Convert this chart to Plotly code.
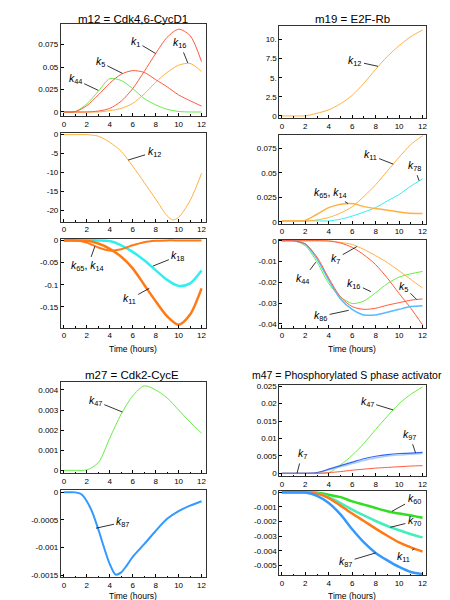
import plotly.graph_objects as go

W, H = 450, 600
FONT = "Liberation Sans, Arial, sans-serif"

# ---------------- data ----------------
hours = [0, 1, 2, 3, 4, 5, 6, 7, 8, 9, 10, 11, 12]
hours_m12_k12 = [0, 1, 2, 3, 4, 5, 6, 7, 8, 9, 9.5, 10, 11, 12]
hours_m27_k87 = [0, 1, 1.5, 2, 2.5, 3, 3.5, 4, 4.5, 5, 5.5, 6, 7, 8, 9, 10, 11, 12]

# m12 = Cdk4,6-CycD1
m12_k1 = [0, 0, 0, 0.001, 0.004, 0.012, 0.026, 0.045, 0.065, 0.083, 0.092, 0.085, 0.056]
m12_k5 = [0, 0.0004, 0.007, 0.019, 0.032, 0.042, 0.046, 0.044, 0.036, 0.028, 0.019, 0.0125, 0.0066]
m12_k44 = [0, 0.0004, 0.009, 0.023, 0.037, 0.035, 0.026, 0.015, 0.008, 0.003, 0.0006, 0, 0]
m12_k16 = [0, 0, 0, 0, 0.0015, 0.004, 0.0095, 0.02, 0.033, 0.044, 0.052, 0.054, 0.045]
m12_k12 = [0, 0, 0, -0.4, -2, -4.4, -8.3, -12.6, -17, -21.4, -22.5, -21.8, -17.4, -10.2]
m12_k11 = [0, 0, -0.001, -0.007, -0.019, -0.037, -0.063, -0.1, -0.137, -0.171, -0.19, -0.167, -0.108]
m12_k18 = [0, 0, 0, 0, -0.0015, -0.011, -0.026, -0.045, -0.067, -0.089, -0.1025, -0.097, -0.068]
m12_k65_k14 = [0, 0, -0.005, -0.016, -0.023, -0.02, -0.011, -0.004, -0.001, 0, 0, 0, 0]

# m19 = E2F-Rb
m19_k12 = [0, 0, 0.02, 0.35, 0.8, 1.6, 2.7, 4.3, 6.1, 7.8, 9.2, 10.4, 11.25]
m19_k11 = [0.001, 0.001, 0.001, 0.002, 0.0045, 0.009, 0.0155, 0.026, 0.038, 0.052, 0.066, 0.079, 0.088]
m19_k78 = [0.001, 0.001, 0.001, 0.001, 0.001, 0.0027, 0.006, 0.010, 0.0146, 0.0214, 0.028, 0.0366, 0.044]
m19_k65_k14 = [0.001, 0.001, 0.0015, 0.0078, 0.0146, 0.018, 0.0187, 0.0156, 0.0136, 0.0119, 0.0102, 0.0088, 0.0085]
m19_k7 = [0, 0, 0, 0, 0, -0.0008, -0.0018, -0.0042, -0.0072, -0.0105, -0.0145, -0.0186, -0.0228]
m19_k7b = [0, 0, 0, 0, -0.0002, -0.0011, -0.0032, -0.0068, -0.0115, -0.018, -0.0254, -0.0325, -0.0405]
m19_k16 = [0, 0, -0.0024, -0.0103, -0.0206, -0.027, -0.0302, -0.029, -0.025, -0.0206, -0.0175, -0.0159, -0.0148]
m19_k5 = [0, 0, -0.0016, -0.0079, -0.018, -0.027, -0.0317, -0.033, -0.0325, -0.031, -0.0298, -0.0286, -0.028]
m19_k86 = [0, 0, -0.0016, -0.0087, -0.019, -0.028, -0.033, -0.0357, -0.0357, -0.0344, -0.033, -0.0317, -0.0313]

# m27 = Cdk2-CycE
m27_k47 = [0, 0, 0.00002, 0.00038, 0.0016, 0.0028, 0.0037, 0.0042, 0.004, 0.0036, 0.003, 0.0024, 0.00185]
m27_k87 = [0, 0, -0.00003, -0.00016, -0.00037, -0.00067, -0.001, -0.0013, -0.00149, -0.00145,
           -0.00132, -0.00117, -0.00094, -0.0007, -0.00048, -0.00034, -0.00024, -0.00016]

# m47 = Phosphorylated S phase activator
m47_k47 = [0, 0, 0, 0, 0.0002, 0.0024, 0.0052, 0.0086, 0.0126, 0.0164, 0.02, 0.0227, 0.0248]
m47_k97 = [0, 0, 0, 0.0002, 0.0012, 0.0022, 0.0032, 0.0042, 0.0049, 0.0054, 0.0057, 0.0058, 0.006]
m47_k97b = [0, 0, 0, 0.0001, 0.001, 0.0019, 0.0028, 0.0037, 0.0044, 0.005, 0.0053, 0.0055, 0.0057]
m47_k7 = [0, 0, 0, 0, 0.0002, 0.0005, 0.0009, 0.0012, 0.0015, 0.0017, 0.0019, 0.0021, 0.0022]
m47_k60 = [0, 0, 0, -0.00002, -0.00018, -0.00034, -0.00063, -0.00085, -0.00108, -0.0013, -0.00146, -0.00159, -0.00175]
m47_k70 = [0, 0, 0, -0.00007, -0.00034, -0.00074, -0.00119, -0.00159, -0.00197, -0.00231, -0.0026, -0.00287, -0.00309]
m47_k11 = [0, 0, 0, -0.0001, -0.0004, -0.00092, -0.00146, -0.00197, -0.00249, -0.00298, -0.00343, -0.00377, -0.00406]
m47_k87 = [0, 0, -0.00002, -0.00025, -0.00074, -0.00152, -0.00253, -0.00343, -0.00415, -0.00466, -0.00511, -0.00545, -0.0056]

x_ticks = [0, 2, 4, 6, 8, 10, 12]
x_ticklabels = ["0", "2", "4", "6", "8", "10", "12"]

# ---------------- styling ----------------
RED = "#FF5A3C"
ORANGE = "#FFB040"
DORANGE = "#FF7A14"
GREEN = "#66EE44"
DGREEN = "#33DD22"
CYAN = "#33EEEE"
AQUA = "#44EEBB"
BLUE = "#3399FF"
LBLUE = "#55BBFF"
BBLUE = "#3366EE"

XL = [-0.26, 12.35]
XR = [-0.21, 12.3]

panels = {
    1: dict(box=(53, 198, 13, 106), xr=XL, yr=[-0.0044, 0.098],
            yt=[0, 0.025, 0.05, 0.075], ytl=["0", "0.025", "0.05", "0.075"]),
    2: dict(box=(53, 198, 123, 213), xr=XL, yr=[-23.0, 0.5],
            yt=[0, -5, -10, -15, -20], ytl=["0", "-5", "-10", "-15", "-20"]),
    3: dict(box=(53, 198, 230, 320), xr=XL, yr=[-0.197, 0.0038],
            yt=[0, -0.05, -0.1, -0.15], ytl=["0", "-0.05", "-0.1", "-0.15"]),
    4: dict(box=(53, 198, 375, 467), xr=XL, yr=[-0.00015, 0.00438],
            yt=[0, 0.001, 0.002, 0.003, 0.004], ytl=["0", "0.001", "0.002", "0.003", "0.004"]),
    5: dict(box=(53, 198, 484, 572), xr=XL, yr=[-0.00154, 0.00004],
            yt=[0, -0.0005, -0.001, -0.0015], ytl=["0", "-0.0005", "-0.001", "-0.0015"]),
    6: dict(box=(272, 419, 15, 108), xr=XR, yr=[-0.26, 11.8],
            yt=[0, 2.5, 5, 7.5, 10], ytl=["0", "2.5", "5.", "7.5", "10."]),
    7: dict(box=(272, 419, 125, 215), xr=XR, yr=[-0.002, 0.089],
            yt=[0, 0.025, 0.05, 0.075], ytl=["0", "0.025", "0.05", "0.075"]),
    8: dict(box=(272, 419, 231, 320), xr=XR, yr=[-0.0419, 0.0005],
            yt=[0, -0.01, -0.02, -0.03, -0.04], ytl=["0", "-0.01", "-0.02", "-0.03", "-0.04"]),
    9: dict(box=(272, 419, 378, 470), xr=XR, yr=[-0.00085, 0.0253],
            yt=[0, 0.005, 0.01, 0.015, 0.02, 0.025], ytl=["0", "0.005", "0.01", "0.015", "0.02", "0.025"]),
    10: dict(box=(272, 419, 485, 570), xr=XR, yr=[-0.00568, 0.00007],
             yt=[0, -0.001, -0.002, -0.003, -0.004, -0.005],
             ytl=["0", "-0.001", "-0.002", "-0.003", "-0.004", "-0.005"]),
}

fig = go.Figure()


def add_line(p, xs, ys, color, width=1.0):
    fig.add_trace(go.Scatter(x=xs, y=ys, mode="lines", xaxis=f"x{p}", yaxis=f"y{p}",
                             line=dict(color=color, width=width, shape="spline", smoothing=0.8),
                             hoverinfo="skip", showlegend=False))


# panel 1
add_line(1, hours, m12_k16, ORANGE)
add_line(1, hours, m12_k44, GREEN)
add_line(1, hours, m12_k5, RED)
add_line(1, hours, m12_k1, RED)
# panel 2
add_line(2, hours_m12_k12, m12_k12, ORANGE)
# panel 3
add_line(3, hours, m12_k18, CYAN, 2.5)
add_line(3, hours, m12_k65_k14, DORANGE, 2.0)
add_line(3, hours, m12_k11, DORANGE, 2.5)
# panel 4
add_line(4, hours, m27_k47, GREEN)
# panel 5
add_line(5, hours_m27_k87, m27_k87, BLUE, 2.0)
# panel 6
add_line(6, hours, m19_k12, ORANGE)
# panel 7
add_line(7, hours, m19_k78, CYAN)
add_line(7, hours, m19_k65_k14, ORANGE, 1.5)
add_line(7, hours, m19_k11, ORANGE)
# panel 8
add_line(8, hours, m19_k7, ORANGE)
add_line(8, hours, m19_k7b, RED)
add_line(8, hours, m19_k16, GREEN)
add_line(8, hours, m19_k86, LBLUE, 1.5)
add_line(8, hours, m19_k5, RED)
# panel 9
add_line(9, hours, m47_k47, GREEN)
add_line(9, hours, m47_k97b, "#AACCFF", 1.5)
add_line(9, hours, m47_k97, BBLUE, 1.2)
add_line(9, hours, m47_k7, RED)
# panel 10
add_line(10, hours, m47_k60, DGREEN, 2.5)
add_line(10, hours, m47_k70, AQUA, 2.5)
add_line(10, hours, m47_k11, DORANGE, 2.5)
add_line(10, hours, m47_k87, BLUE, 2.5)

layout = dict(width=W, height=H, autosize=False, margin=dict(l=0, r=0, t=0, b=0),
              paper_bgcolor="white", plot_bgcolor="white",
              font=dict(family=FONT, size=8, color="black"), showlegend=False)

for p, c in panels.items():
    l, r, t, b = c["box"]
    layout[f"xaxis{p}"] = dict(domain=[l / W, r / W], range=c["xr"], anchor=f"y{p}",
                               tickmode="array", tickvals=x_ticks, ticktext=x_ticklabels,
                               ticks="inside", ticklen=3, tickwidth=0.8, tickcolor="black",
                               minor=dict(ticks="inside", ticklen=1.5, dtick=1, tick0=0, tickcolor="black"),
                               showline=True, linecolor="#333333", linewidth=1, mirror=True,
                               showgrid=False, zeroline=False, tickfont=dict(size=8, family=FONT),
                               fixedrange=True)
    layout[f"yaxis{p}"] = dict(domain=[1 - b / H, 1 - t / H], range=c["yr"], anchor=f"x{p}",
                               tickmode="array", tickvals=c["yt"], ticktext=c["ytl"],
                               ticks="inside", ticklen=3, tickwidth=0.8, tickcolor="black",
                               showline=True, linecolor="#333333", linewidth=1, mirror=True,
                               showgrid=False, zeroline=False, tickfont=dict(size=8, family=FONT),
                               fixedrange=True)

annotations = []


def klabel(p, sub, x, y, ax, ay):
    annotations.append(dict(xref=f"x{p}", yref=f"y{p}", x=x, y=y, ax=ax, ay=ay,
                            text=f"<i>k</i><sub>{sub}</sub>", showarrow=True, arrowhead=0,
                            arrowwidth=0.8, arrowcolor="black", standoff=0, startstandoff=1,
                            font=dict(family=FONT, size=10.5, color="black")))


def klabel2(p, sub1, sub2, x, y, ax, ay):
    annotations.append(dict(xref=f"x{p}", yref=f"y{p}", x=x, y=y, ax=ax, ay=ay,
                            text=f"<i>k</i><sub>{sub1}</sub>, <i>k</i><sub>{sub2}</sub>",
                            showarrow=True, arrowhead=0,
                            arrowwidth=0.8, arrowcolor="black", standoff=0, startstandoff=1,
                            font=dict(family=FONT, size=10.5, color="black")))


klabel(1, "1", 8.0, 0.065, -20, -12)
klabel(1, "16", 10.8, 0.0545, -8, -20)
klabel(1, "5", 5.1, 0.043, -22, -11)
klabel(1, "44", 3.0, 0.024, -23, -11)
klabel(2, "12", 5.6, -6.7, 26, -8)
klabel(3, "18", 7.75, -0.058, 25, -10)
klabel(3, "11", 7.45, -0.108, -20, 11)
klabel2(3, "65", "14", 2.7, -0.0135, -7, 20)
klabel(4, "47", 5.1, 0.0029, -27, -11)
klabel(5, "87", 2.8, -0.00065, 27, -6)
klabel(6, "12", 8.2, 6.5, -23, -5)
klabel(7, "11", 9.5, 0.059, -23, -9)
klabel(7, "78", 11.7, 0.042, -5, -15)
klabel2(7, "65", "14", 5.65, 0.0187, -18, -11)
klabel(8, "7", 6.4, -0.0028, -21, 12)
klabel(8, "44", 2.9, -0.0103, -13, 17)
klabel(8, "16", 7.6, -0.0245, -17, -8)
klabel(8, "5", 11.5, -0.0283, -13, -13)
klabel(8, "86", 5.7, -0.0335, -28, 6)
klabel(9, "47", 9.5, 0.0182, -26, -8)
klabel(9, "97", 11.4, 0.0059, -6, -18)
klabel(9, "7", 1.3, 0.0001, 5, -19)
klabel(10, "60", 9.4, -0.0013, 22, -12)
klabel(10, "70", 9.25, -0.0024, 24, -6)
klabel(10, "11", 11.3, -0.00386, -11, 8)
klabel(10, "87", 8.0, -0.00415, -30, 9)

titles = [("m12 = Cdk4,6-CycD1", 125, 8, 11.5), ("m19 = E2F-Rb", 345, 8, 11.5),
          ("m27 = Cdk2-CycE", 124, 368, 11.5),
          ("m47 = Phosphorylated S phase activator", 340, 368, 10.5)]
for txt, px, py, fs in titles:
    annotations.append(dict(xref="paper", yref="paper", x=px / W, y=1 - py / H, text=txt,
                            showarrow=False, xanchor="center", yanchor="middle",
                            font=dict(family=FONT, size=fs, color="black")))

for px, py in [(125, 341), (345, 341), (125, 591), (345, 591)]:
    annotations.append(dict(xref="paper", yref="paper", x=px / W, y=1 - py / H, text="Time (hours)",
                            showarrow=False, xanchor="center", yanchor="middle",
                            font=dict(family=FONT, size=8.5, color="black")))

layout["annotations"] = annotations
fig.update_layout(**layout)
fig.write_html("out.html")
